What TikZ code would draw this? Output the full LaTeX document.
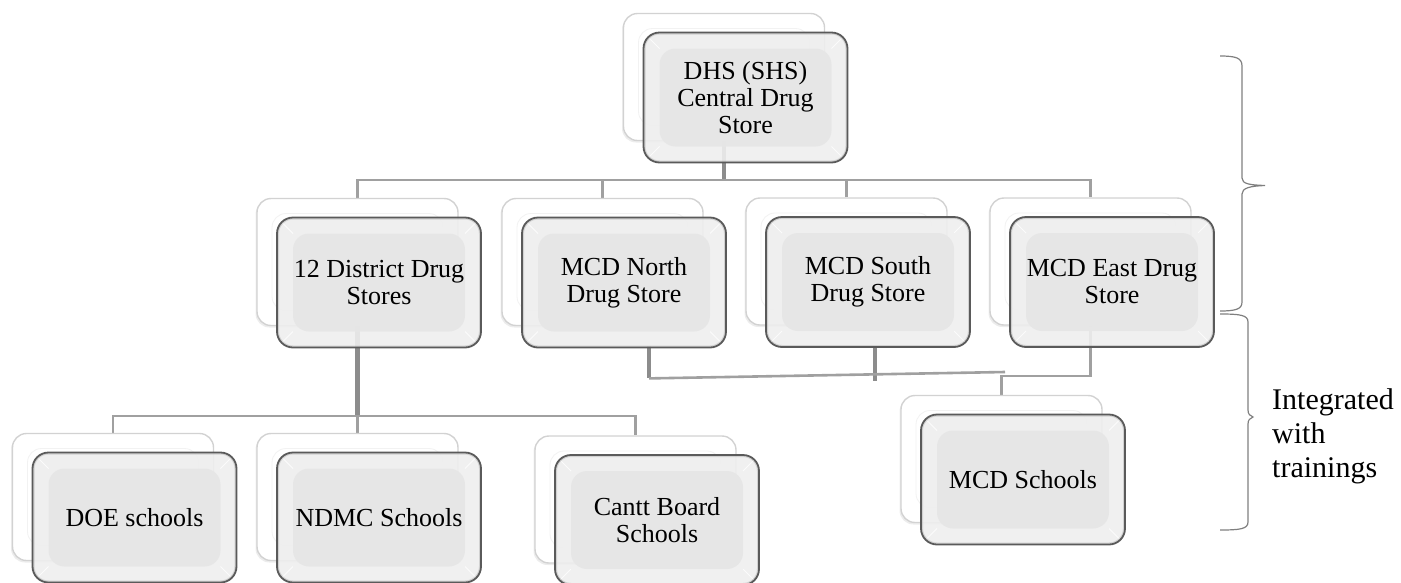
\documentclass[tikz,border=0pt]{standalone}
\usepackage{fontspec}
\setmainfont{Liberation Serif}
\usetikzlibrary{calc,shadows}
\pgfdeclarelayer{bg}
\pgfsetlayers{bg,main}
\definecolor{edge}{HTML}{5A5A5A}
\definecolor{conn}{HTML}{A0A0A0}
\definecolor{connd}{HTML}{8C8C8C}
\definecolor{bracec}{HTML}{7F7F7F}
\definecolor{facein}{HTML}{E6E6E6}
\definecolor{facering}{HTML}{EEEEEE}
\definecolor{backedge}{HTML}{D2D2D2}
\tikzset{
  frontbox/.style={rectangle, rounded corners=16pt, minimum width=204pt, minimum height=130pt,
    inner sep=0pt, align=center, draw=edge, line width=1.8pt,
    fill=facering, fill opacity=0.9, text opacity=1, font=\fontsize{26}{27}\selectfont,
    path picture={
      \fill[facein] ([shift={(16pt,16pt)}]path picture bounding box.south west) rectangle ([shift={(-16pt,-16pt)}]path picture bounding box.north east);
      \draw[white, line width=1pt, opacity=0.8] (path picture bounding box.south west) -- ++(16pt,16pt)
        (path picture bounding box.north west) -- ++(16pt,-16pt)
        (path picture bounding box.north east) -- ++(-16pt,-16pt)
        (path picture bounding box.south east) -- ++(-16pt,16pt);
      \draw[black!45, line width=4pt, opacity=0.3, rounded corners=16pt] (path picture bounding box.south west) rectangle (path picture bounding box.north east);
    }},
  backbox/.style={rectangle, rounded corners=14pt, minimum width=201pt, minimum height=127pt,
    inner sep=0pt, draw=backedge, line width=1.4pt, fill=white,
    drop shadow={opacity=0.15, shadow xshift=-1.5pt, shadow yshift=-2pt},
    path picture={
      \draw[black!5, line width=0.8pt] ([shift={(15pt,15pt)}]path picture bounding box.south west) rectangle ([shift={(-15pt,-15pt)}]path picture bounding box.north east);
    }},
  thinconn/.style={draw=conn, line width=2.6pt},
  thickconn/.style={draw=connd, line width=4.5pt},
  bracestyle/.style={draw=bracec, line width=1.2pt},
  sidelabel/.style={font=\fontsize{30}{34}\selectfont, align=left, inner sep=0pt, anchor=north west},
}
\newcommand{\orgbox}[4]{%
  \node[backbox] (#1B) at ([shift={(-21.5,-20.5)}]#2,#3) {};
  \node[frontbox] (#1) at (#2,#3) {#4};
}
\begin{document}
\begin{tikzpicture}[x=1pt,y=-1pt]
\useasboundingbox (0,0) rectangle (1401,582);

\orgbox{dhs}{745.5}{97.5}{DHS (SHS)\\Central Drug\\Store}
\orgbox{dist}{379}{282.5}{12 District Drug\\Stores}
\orgbox{north}{624}{282.5}{MCD North\\Drug Store}
\orgbox{south}{868}{282}{MCD South\\Drug Store}
\orgbox{east}{1112}{282}{MCD East Drug\\Store}
\orgbox{doe}{134.5}{517.5}{DOE schools}
\orgbox{ndmc}{379}{517.5}{NDMC Schools}
\orgbox{cantt}{657}{520}{Cantt Board\\Schools}
\orgbox{mcds}{1023}{479.5}{MCD Schools}

\coordinate (bus1) at (0,180);
\coordinate (bus2) at (0,416);
\coordinate (bus3) at (0,376);
\coordinate (mcdEnd) at (1005,372);

\begin{pgfonlayer}{bg}
  \draw[thickconn] (dhsB.south) -- (dhsB.south |- bus1);
  \draw[thinconn] (distB.north) -- (distB.north |- bus1) -- (eastB.north |- bus1) -- (eastB.north);
  \draw[thinconn] (northB.north) -- (northB.north |- bus1);
  \draw[thinconn] (southB.north) -- (southB.north |- bus1);

  \draw[thickconn] (distB.south) -- (distB.south |- bus2);
  \draw[thinconn] (doeB.north) -- (doeB.north |- bus2) -- (canttB.north |- bus2) -- (canttB.north);
  \draw[thinconn] (ndmcB.north) -- (ndmcB.north |- bus2);

  \draw[thickconn] ([xshift=25pt,yshift=2pt]north.south) -- ++(0,32);
  \draw[thickconn] ([xshift=7pt]south.south) -- ++(0,33);
  \draw[thinconn] ([xshift=25pt,yshift=-30pt]north.south) -- (mcdEnd);
  \draw[thinconn] (eastB.south) -- (eastB.south |- bus3) -| (mcdsB.north);
\end{pgfonlayer}

\draw[bracestyle] (1220,56) .. controls (1236,56) and (1242,58) .. (1242,66) -- (1242,178)
  .. controls (1242,184) and (1250,185) .. (1265,185.5)
  .. controls (1250,186) and (1242,188) .. (1242,194) -- (1242,302)
  .. controls (1242,309) and (1236,311) .. (1220,311);
\draw[bracestyle] (1220,314) .. controls (1240,314) and (1248,315) .. (1248,322) -- (1248,410)
  .. controls (1248,414) and (1250,416) .. (1253,417)
  .. controls (1250,418) and (1248,420) .. (1248,424) -- (1248,522)
  .. controls (1248,529) and (1240,530) .. (1220,530);

\node[sidelabel] (lbl) at (1272,388) {Integrated\\with\\trainings};
\end{tikzpicture}
\end{document}
